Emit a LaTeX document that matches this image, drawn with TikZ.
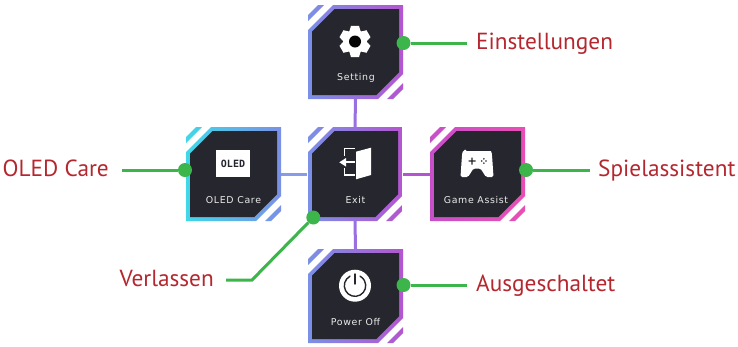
\documentclass[tikz,border=0pt]{standalone}
\usepackage{fontspec}
\setmainfont{PT Sans}
\newfontfamily\techfont[LetterSpace=7]{DejaVu Sans}
\definecolor{panel}{HTML}{25262E}
\definecolor{hublue}{HTML}{7B90E6}
\definecolor{hucyan}{HTML}{3FD8E8}
\definecolor{hupurple}{HTML}{B455D0}
\definecolor{humid}{HTML}{9A6FE2}
\definecolor{humag}{HTML}{C94FC8}
\definecolor{hupink}{HTML}{E84FB5}
\definecolor{hugreen}{HTML}{3CB54A}
\definecolor{hured}{HTML}{B5272F}
\tikzset{
  anchorbox/.style={rectangle,minimum width=95pt,minimum height=94pt,inner sep=0pt},
  wire/.style={line width=3pt},
  callout/.style={hugreen,line width=3pt},
  dot/.style={circle,fill=hugreen,minimum size=14pt,inner sep=0pt},
  redlabel/.style={text=hured,font=\fontsize{23.3}{25}\selectfont,text height=17.5pt,text depth=4.5pt,inner ysep=0pt,inner xsep=9pt},
  hudlabel/.style={text=white!92!black,font=\techfont\fontsize{9.4}{10}\selectfont,inner sep=0pt},
}
% left, top, right, bottom, colour left, colour right
\newcommand{\hudpanel}[6]{%
  \begin{scope}
    \clip (#1,#2+25) -- (#1+25,#2) -- (#3,#2) -- (#3,#4-25) -- (#3-25,#4) -- (#1,#4) -- cycle
      (#1,#2+10) -- (#1+10,#2) -- (#1+16,#2) -- (#1,#2+16) -- cycle
      (#3,#4-16) -- (#3,#4-10) -- (#3-10,#4) -- (#3-16,#4) -- cycle;
    \shade[left color=#5,right color=#6] (#1,#2) rectangle (#3,#4);
  \end{scope}
  \fill[panel] (#1+4,#2+26.7) -- (#1+26.7,#2+4) -- (#3-4,#2+4) -- (#3-4,#4-26.7) -- (#3-26.7,#4-4) -- (#1+4,#4-4) -- cycle;
}
\begin{document}
\begin{tikzpicture}[x=1pt,y=-1pt]
\useasboundingbox (0,0) rectangle (738,346);
% anchoring nodes
\node[anchorbox] (setting) at (355.5,52) {};
\node[anchorbox] (oled) at (233.5,174) {};
\node[anchorbox] (exit) at (355,174) {};
\node[anchorbox] (game) at (477.5,174) {};
\node[anchorbox] (power) at (355.5,296) {};
% wires
\draw[wire,humid] (exit.north) -- (setting.south);
\draw[wire,humid] (exit.south) -- (power.north);
\draw[wire,hublue!90!white] (oled.east) -- (exit.west);
\draw[wire,hupurple] (exit.east) -- (game.west);
% panels
\hudpanel{308}{5}{403}{99}{hublue}{hupurple}
\hudpanel{186}{127}{281}{221}{hucyan}{hublue}
\hudpanel{308}{127}{402}{221}{hublue}{hupurple}
\hudpanel{430}{127}{525}{221}{humag!90!hupurple}{hupink}
\hudpanel{308}{249}{403}{343}{hublue}{hupurple}
% panel captions
\node[hudlabel] (settinglbl) at (356,78) {Setting};
\node[hudlabel] (oledlbl) at (233.5,200) {OLED Care};
\node[hudlabel] (exitlbl) at (355.5,200) {Exit};
\node[hudlabel] (gamelbl) at (476,200) {Game Assist};
\node[hudlabel] (powerlbl) at (355.5,322) {Power Off};
% gear icon
\begin{scope}[shift={(355,41.5)}]
  \fill[white] (0,0) circle (11.8);
  \foreach \a in {0,60,...,300}
    \fill[white,rotate=\a] (-6,-9) -- (-4,-15.6) -- (4,-15.6) -- (6,-9) -- cycle;
  \fill[black!90!panel] (0,0) circle (6);
\end{scope}
% OLED icon
\node[fill=white,minimum width=34pt,minimum height=27pt,inner sep=0pt,text=panel,font=\fontspec{DejaVu Sans Mono Bold}\fontsize{10}{10}\selectfont] (oledicon) at (233,163.5) {OLED};
% exit icon
\fill[white] (356,151.7) -- (371,147.7) -- (371,175) -- (356,179.3) -- cycle;
\draw[white,line width=1.7pt] (354.5,148.5) -- (344.5,148.5) -- (344.5,156);
\draw[white,line width=1.7pt] (344.5,168) -- (344.5,175) -- (354.5,175);
\draw[white,line width=1.7pt] (345,162.3) -- (354.5,162.3);
\fill[white] (339.3,162.3) -- (346,158) -- (346,166.6) -- cycle;
% game icon
\fill[white,rounded corners=1.5pt] (465,151) -- (489,151) .. controls (491,151) and (491.5,152) .. (492,155) -- (493.5,177) -- (486,177) -- (480.5,168.5) -- (473.5,168.5) -- (468,177) -- (460.5,177) -- (462,155) .. controls (462.5,152) and (463,151) .. (465,151) -- cycle;
\fill[panel] (468.5,160.3) rectangle (475.5,161.7) (471.3,157.5) rectangle (472.7,164.5);
\fill[panel] (481.8,161) circle (.9) (486,161) circle (.9) (483.9,158.9) circle (.9) (483.9,163.1) circle (.9);
% power icon
\fill[white] (355,285.7) circle (16);
\draw[panel,line width=1.4pt,line cap=round] (350,276.2) arc[start angle=-118,end angle=-422,radius=10.7];
\draw[panel,line width=1.4pt,line cap=round] (355,274) -- (355,284);
% callouts
\node[dot] (d1) at (403.5,43) {};
\node[dot] (d2) at (185,170) {};
\node[dot] (d3) at (526,170) {};
\node[dot] (d4) at (403.5,285) {};
\node[dot] (d5) at (313.3,217.5) {};
\node[redlabel,anchor=west] (l1) at (467,43) {Einstellungen};
\node[redlabel,anchor=east,inner xsep=13pt] (l2) at (122,170) {OLED Care};
\node[redlabel,anchor=west,inner xsep=8pt] (l3) at (590,170) {Spielassistent};
\node[redlabel,anchor=west] (l4) at (467,285) {Ausgeschaltet};
\node[redlabel,anchor=east,inner xsep=12pt] (l5) at (226,280) {Verlassen};
\coordinate (bend) at (252,280);
\draw[callout] (d1) -- (l1.west);
\draw[callout] (d2) -- (l2.east);
\draw[callout] (d3) -- (l3.west);
\draw[callout] (d4) -- (l4.west);
\draw[callout] (d5) -- (bend) -- (l5.east);
\end{tikzpicture}
\end{document}
